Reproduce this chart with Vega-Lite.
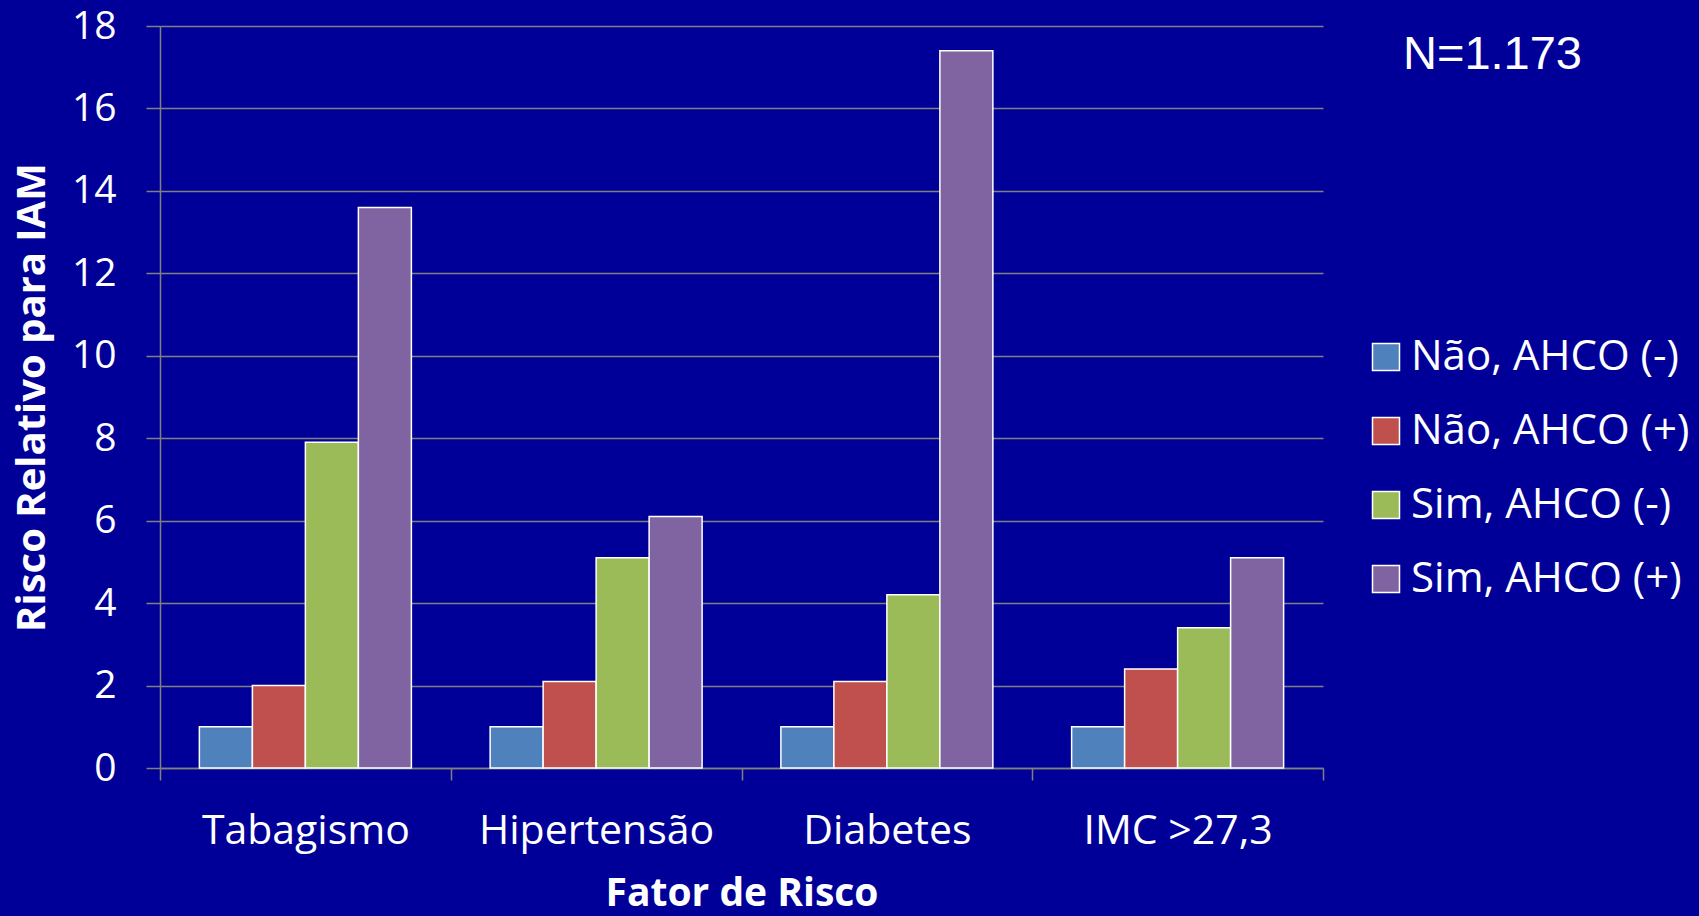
{
  "$schema": "https://vega.github.io/schema/vega-lite/v6.json",
  "width": 1163,
  "height": 742,
  "autosize": {"type": "none"},
  "padding": {"left": 160, "top": 26, "right": 376, "bottom": 148},
  "background": "#000099",
  "title": {
    "text": "N=1.173",
    "anchor": "start",
    "frame": "group",
    "orient": "top",
    "font": "Liberation Sans",
    "fontSize": 47,
    "fontWeight": "normal",
    "color": "white",
    "baseline": "alphabetic",
    "dx": 1243,
    "dy": 113
  },
  "data": {
    "values": [
      {"fator": "Tabagismo", "grupo": "Não, AHCO (-)", "risco": 1.0},
      {"fator": "Tabagismo", "grupo": "Não, AHCO (+)", "risco": 2.0},
      {"fator": "Tabagismo", "grupo": "Sim, AHCO (-)", "risco": 7.9},
      {"fator": "Tabagismo", "grupo": "Sim, AHCO (+)", "risco": 13.6},
      {"fator": "Hipertensão", "grupo": "Não, AHCO (-)", "risco": 1.0},
      {"fator": "Hipertensão", "grupo": "Não, AHCO (+)", "risco": 2.1},
      {"fator": "Hipertensão", "grupo": "Sim, AHCO (-)", "risco": 5.1},
      {"fator": "Hipertensão", "grupo": "Sim, AHCO (+)", "risco": 6.1},
      {"fator": "Diabetes", "grupo": "Não, AHCO (-)", "risco": 1.0},
      {"fator": "Diabetes", "grupo": "Não, AHCO (+)", "risco": 2.1},
      {"fator": "Diabetes", "grupo": "Sim, AHCO (-)", "risco": 4.2},
      {"fator": "Diabetes", "grupo": "Sim, AHCO (+)", "risco": 17.4},
      {"fator": "IMC >27,3", "grupo": "Não, AHCO (-)", "risco": 1.0},
      {"fator": "IMC >27,3", "grupo": "Não, AHCO (+)", "risco": 2.4},
      {"fator": "IMC >27,3", "grupo": "Sim, AHCO (-)", "risco": 3.4},
      {"fator": "IMC >27,3", "grupo": "Sim, AHCO (+)", "risco": 5.1}
    ]
  },
  "mark": {"type": "bar", "stroke": "white", "strokeWidth": 1.5},
  "encoding": {
    "x": {
      "field": "fator",
      "type": "nominal",
      "sort": ["Tabagismo", "Hipertensão", "Diabetes", "IMC >27,3"],
      "scale": {"paddingInner": 0, "paddingOuter": 0},
      "axis": {
        "title": "Fator de Risco",
        "labelAngle": 0,
        "labelFont": "Open Sans",
        "labelFontSize": 41,
        "labelColor": "white",
        "labelLimit": 400,
        "labelBaseline": "alphabetic",
        "labelPadding": 63,
        "tickSize": 12,
        "tickColor": "#808080",
        "tickWidth": 1.5,
        "tickBand": "extent",
        "domain": true,
        "domainColor": "#808080",
        "domainWidth": 1.5,
        "grid": false,
        "titleFont": "Open Sans",
        "titleFontWeight": "bold",
        "titleFontSize": 39,
        "titleColor": "white",
        "titleBaseline": "alphabetic",
        "titleY": 137
      }
    },
    "xOffset": {
      "field": "grupo",
      "type": "nominal",
      "sort": ["Não, AHCO (-)", "Não, AHCO (+)", "Sim, AHCO (-)", "Sim, AHCO (+)"],
      "scale": {"paddingInner": 0, "paddingOuter": 0.743}
    },
    "y": {
      "field": "risco",
      "type": "quantitative",
      "scale": {"domain": [0, 18], "nice": false},
      "axis": {
        "title": "Risco Relativo para IAM",
        "values": [0, 2, 4, 6, 8, 10, 12, 14, 16, 18],
        "labelFont": "Open Sans",
        "labelFontSize": 39,
        "labelColor": "white",
        "labelPadding": 30,
        "tickSize": 14,
        "tickColor": "#808080",
        "tickWidth": 1.5,
        "domainColor": "#808080",
        "domainWidth": 1.5,
        "grid": true,
        "gridColor": "#808080",
        "gridWidth": 1.5,
        "gridOpacity": 1,
        "titleFont": "Open Sans",
        "titleFontWeight": "bold",
        "titleFontSize": 40,
        "titleColor": "white",
        "titleAngle": -90,
        "titleBaseline": "alphabetic",
        "titleAlign": "center",
        "titleX": -116,
        "titleY": 371
      }
    },
    "fill": {
      "field": "grupo",
      "type": "nominal",
      "sort": ["Não, AHCO (-)", "Não, AHCO (+)", "Sim, AHCO (-)", "Sim, AHCO (+)"],
      "scale": {"range": ["#4F81BD", "#C0504D", "#9BBB59", "#8064A2"]},
      "legend": {
        "title": null,
        "orient": "none",
        "legendX": 1205,
        "legendY": 310,
        "padding": 0,
        "symbolType": "square",
        "symbolSize": 729,
        "symbolStrokeColor": "white",
        "symbolStrokeWidth": 1.5,
        "symbolOpacity": 1,
        "labelFont": "Open Sans",
        "labelFontSize": 42,
        "labelColor": "white",
        "labelOffset": 4,
        "labelLimit": 400,
        "rowPadding": 32
      }
    }
  },
  "config": {"view": {"stroke": null}}
}
